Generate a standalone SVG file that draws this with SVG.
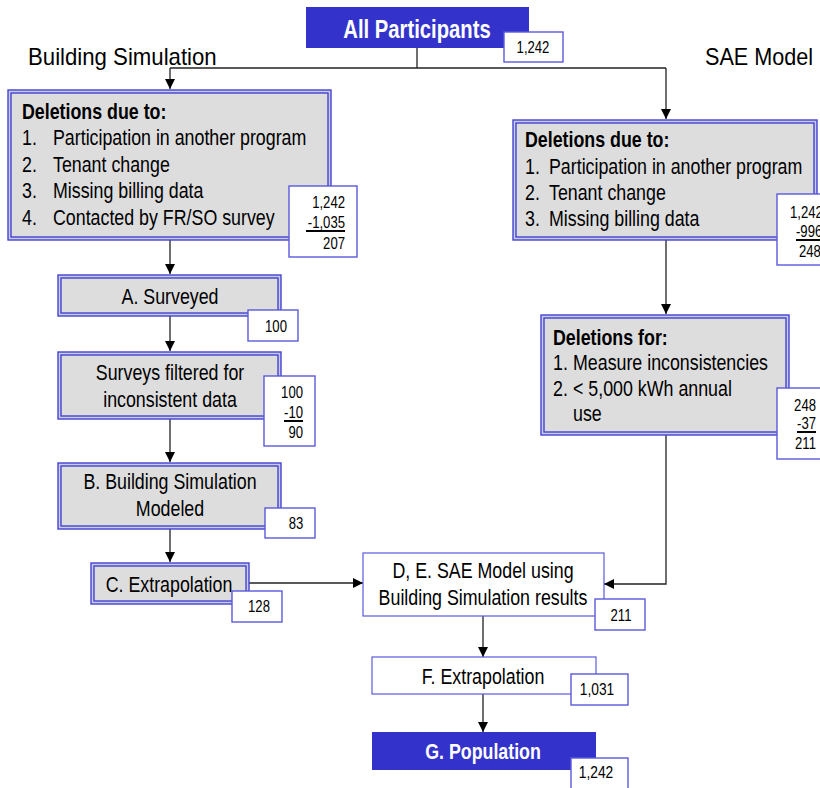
<svg xmlns="http://www.w3.org/2000/svg" width="820" height="788" viewBox="0 0 820 788">
<style>
.t{font-family:"Liberation Sans",Arial,sans-serif;font-size:22px;fill:#000}
.b{font-weight:bold}
.w{fill:#fff}
.c{font-size:16px}
.ti{font-size:23px}
.m{text-anchor:middle}
.e{text-anchor:end}
.blue{fill:#3333CC;stroke:none}
.go{fill:#C9C9F2;stroke:#4444CC;stroke-width:1.4}
.gi{fill:#DDDDDD;stroke:#4444CC;stroke-width:1.4}
.cnt{fill:#fff;stroke:#5A5ADC;stroke-width:1.4}
.wb{fill:#fff;stroke:#5A5ADC;stroke-width:1.2}
.ul{stroke:#000;stroke-width:2}
.ln{fill:none;stroke:#222;stroke-width:1.3}
.la{fill:none;stroke:#222;stroke-width:1.3;marker-end:url(#ah)}
</style>
<defs>
<marker id="ah" viewBox="0 0 10 10" refX="10" refY="5" markerWidth="10" markerHeight="10" markerUnits="userSpaceOnUse" orient="auto"><path d="M0,0 L10,5 L0,10 z" fill="#000"/></marker>
</defs>
<rect width="820" height="788" fill="#fff"/>

<g id="titles">
<text class="t ti" transform="matrix(0.965 0 0 1 28 65)">Building Simulation</text>
<text class="t ti" transform="matrix(0.94 0 0 1 705 65)">SAE Model</text>
</g>

<g id="connectors">
<path class="ln" d="M417,48 V68"/>
<path class="ln" d="M170,68 H666"/>
<path class="la" d="M170,68 V89"/>
<path class="la" d="M666,68 V119"/>
<path class="la" d="M170,240 V274"/>
<path class="la" d="M170,316 V351"/>
<path class="la" d="M170,419 V462"/>
<path class="la" d="M170,529 V562"/>
<path class="la" d="M249,583 H363"/>
<path class="la" d="M666,240 V314"/>
<path class="la" d="M666,435 V584 H604"/>
<path class="la" d="M483,616 V657"/>
<path class="la" d="M483,694 V732"/>
</g>

<g id="all-participants">
<rect class="blue" x="306" y="7" width="223" height="41"/>
<text class="t b w m" style="font-size:25px" transform="matrix(0.81 0 0 1 417 38)">All Participants</text>
<rect class="cnt" x="504" y="32" width="59" height="30"/>
<text class="t c m" transform="matrix(0.82 0 0 1 533 53)">1,242</text>
</g>

<g id="bs-deletions">
<rect class="go" x="8" y="90" width="323" height="150"/>
<rect class="gi" x="11" y="93" width="317" height="144"/>
<text class="t b" transform="matrix(0.81 0 0 1 22 119)">Deletions due to:</text>
<text class="t" transform="matrix(0.81 0 0 1 22 145)">1.</text>
<text class="t" transform="matrix(0.81 0 0 1 53 145)">Participation in another program</text>
<text class="t" transform="matrix(0.81 0 0 1 22 172)">2.</text>
<text class="t" transform="matrix(0.81 0 0 1 53 172)">Tenant change</text>
<text class="t" transform="matrix(0.81 0 0 1 22 198)">3.</text>
<text class="t" transform="matrix(0.81 0 0 1 53 198)">Missing billing data</text>
<text class="t" transform="matrix(0.81 0 0 1 22 225)">4.</text>
<text class="t" transform="matrix(0.81 0 0 1 53 225)">Contacted by FR/SO survey</text>
<rect class="cnt" x="289" y="186" width="68" height="71"/>
<text class="t c e" transform="matrix(0.82 0 0 1 345 208)">1,242</text>
<text class="t c e" transform="matrix(0.82 0 0 1 345 228)">-1,035</text>
<line class="ul" x1="306" y1="231" x2="345" y2="231"/>
<text class="t c e" transform="matrix(0.82 0 0 1 345 249)">207</text>
</g>

<g id="surveyed">
<rect class="go" x="58" y="275" width="223" height="41"/>
<rect class="gi" x="61" y="278" width="217" height="35"/>
<text class="t m" transform="matrix(0.81 0 0 1 170 304)">A. Surveyed</text>
<rect class="cnt" x="248" y="310" width="50" height="31"/>
<text class="t c m" transform="matrix(0.82 0 0 1 276 332)">100</text>
</g>

<g id="filtered">
<rect class="go" x="58" y="352" width="223" height="67"/>
<rect class="gi" x="61" y="355" width="217" height="61"/>
<text class="t m" transform="matrix(0.81 0 0 1 170 380)">Surveys filtered for</text>
<text class="t m" transform="matrix(0.81 0 0 1 170 407)">inconsistent data</text>
<rect class="cnt" x="264" y="376" width="51" height="70"/>
<text class="t c e" transform="matrix(0.82 0 0 1 303 398)">100</text>
<text class="t c e" transform="matrix(0.82 0 0 1 303 418)">-10</text>
<line class="ul" x1="284" y1="421" x2="303" y2="421"/>
<text class="t c e" transform="matrix(0.82 0 0 1 303 438)">90</text>
</g>

<g id="bs-modeled">
<rect class="go" x="58" y="463" width="223" height="66"/>
<rect class="gi" x="61" y="466" width="217" height="60"/>
<text class="t m" transform="matrix(0.81 0 0 1 170 489)">B. Building Simulation</text>
<text class="t m" transform="matrix(0.81 0 0 1 170 516)">Modeled</text>
<rect class="cnt" x="265" y="508" width="50" height="30"/>
<text class="t c m" transform="matrix(0.82 0 0 1 296 529)">83</text>
</g>

<g id="c-extrapolation">
<rect class="go" x="91" y="563" width="158" height="41"/>
<rect class="gi" x="94" y="566" width="152" height="35"/>
<text class="t m" transform="matrix(0.81 0 0 1 169 592)">C. Extrapolation</text>
<rect class="cnt" x="232" y="591" width="50" height="31"/>
<text class="t c m" transform="matrix(0.82 0 0 1 259 612)">128</text>
</g>

<g id="sae-deletions">
<rect class="go" x="513" y="120" width="304" height="120"/>
<rect class="gi" x="516" y="123" width="298" height="114"/>
<text class="t b" transform="matrix(0.81 0 0 1 525 147)">Deletions due to:</text>
<text class="t" transform="matrix(0.81 0 0 1 525 174)">1.</text>
<text class="t" transform="matrix(0.81 0 0 1 549 174)">Participation in another program</text>
<text class="t" transform="matrix(0.81 0 0 1 525 200)">2.</text>
<text class="t" transform="matrix(0.81 0 0 1 549 200)">Tenant change</text>
<text class="t" transform="matrix(0.81 0 0 1 525 226)">3.</text>
<text class="t" transform="matrix(0.81 0 0 1 549 226)">Missing billing data</text>
<rect class="cnt" x="777" y="194" width="60" height="71"/>
<text class="t c" transform="matrix(0.82 0 0 1 790 218)">1,242</text>
<text class="t c" transform="matrix(0.82 0 0 1 796 237)">-996</text>
<line class="ul" x1="796" y1="240" x2="822" y2="240"/>
<text class="t c" transform="matrix(0.82 0 0 1 799 257)">248</text>
</g>

<g id="sae-deletions-for">
<rect class="go" x="541" y="315" width="248" height="120"/>
<rect class="gi" x="544" y="318" width="242" height="114"/>
<text class="t b" transform="matrix(0.81 0 0 1 553 345)">Deletions for:</text>
<text class="t" transform="matrix(0.81 0 0 1 553 370)">1.</text>
<text class="t" transform="matrix(0.81 0 0 1 573 370)">Measure inconsistencies</text>
<text class="t" transform="matrix(0.81 0 0 1 553 396)">2.</text>
<text class="t" transform="matrix(0.81 0 0 1 573 396)">&lt; 5,000 kWh annual</text>
<text class="t" transform="matrix(0.81 0 0 1 573 421)">use</text>
<rect class="cnt" x="777" y="388" width="60" height="71"/>
<text class="t c e" transform="matrix(0.82 0 0 1 816 411)">248</text>
<text class="t c e" transform="matrix(0.82 0 0 1 816 429)">-37</text>
<line class="ul" x1="797" y1="432" x2="816" y2="432"/>
<text class="t c e" transform="matrix(0.82 0 0 1 816 449)">211</text>
</g>

<g id="sae-model">
<rect class="wb" x="363" y="553" width="241" height="63"/>
<text class="t m" transform="matrix(0.81 0 0 1 483 578)">D, E. SAE Model using</text>
<text class="t m" transform="matrix(0.81 0 0 1 483 605)">Building Simulation results</text>
<rect class="cnt" x="595" y="599" width="50" height="31"/>
<text class="t c m" transform="matrix(0.82 0 0 1 621 621)">211</text>
</g>

<g id="f-extrapolation">
<rect class="wb" x="372" y="657" width="224" height="37"/>
<text class="t m" transform="matrix(0.81 0 0 1 483 684)">F. Extrapolation</text>
<rect class="cnt" x="571" y="674" width="57" height="31"/>
<text class="t c m" transform="matrix(0.86 0 0 1 597 695)">1,031</text>
</g>

<g id="population">
<rect class="blue" x="372" y="732" width="224" height="38"/>
<text class="t b w m" transform="matrix(0.81 0 0 1 483 759)">G. Population</text>
<rect class="cnt" x="571" y="758" width="57" height="32"/>
<text class="t c m" transform="matrix(0.86 0 0 1 596 778)">1,242</text>
</g>
</svg>
